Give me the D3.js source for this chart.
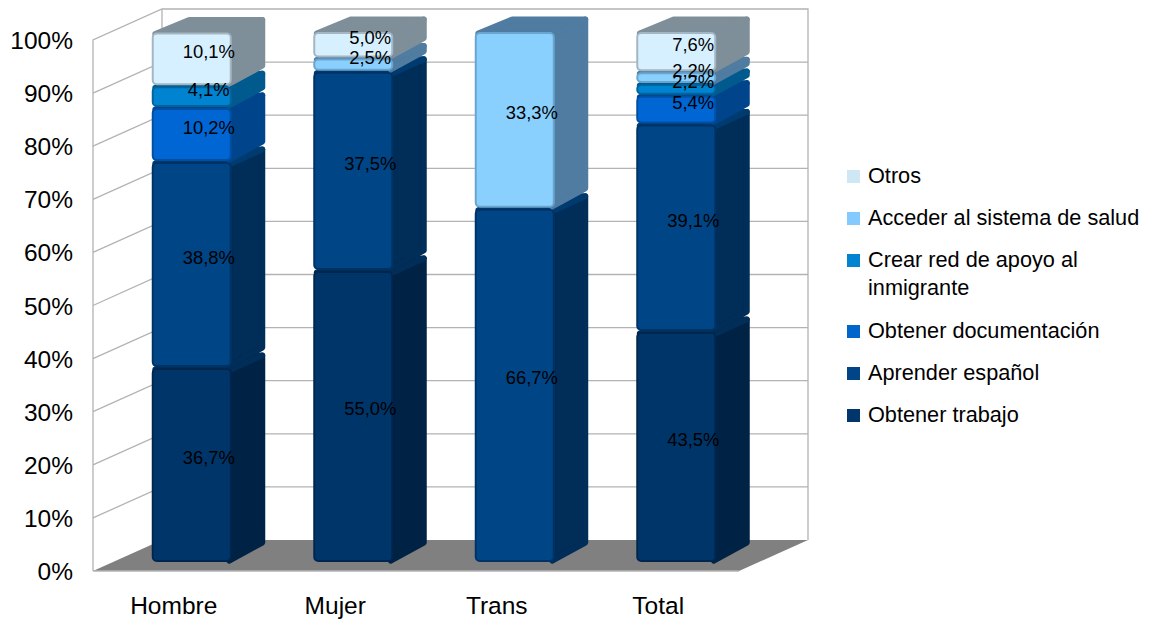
<!DOCTYPE html>
<html>
<head>
<meta charset="utf-8">
<script src="https://cdn.jsdelivr.net/npm/d3@7"></script>
<style>
  body { margin: 0; background: #fff; }
  text { font-family: "Liberation Sans", Arial, sans-serif; fill: #000; }
</style>
</head>
<body>
<svg id="chart" width="1151" height="621"></svg>
<script>
const categories = ["Hombre", "Mujer", "Trans", "Total"];
const ticks = [0, 10, 20, 30, 40, 50, 60, 70, 80, 90, 100];

const trabajo = [36.7, 55.0, 0, 43.5];
const espanol = [38.8, 37.5, 66.7, 39.1];
const documentacion = [10.2, 0, 0, 5.4];
const redApoyo = [4.1, 0, 0, 2.2];
const salud = [0, 2.5, 33.3, 2.2];
const otros = [10.1, 5.0, 0, 7.6];
const seriesValues = [trabajo, espanol, documentacion, redApoyo, salud, otros];

const frontColors = ["#00366b", "#004586", "#0066d4", "#0084d1", "#8ad0ff", "#d7f0ff"];
const sideColors = ["#002244", "#002d58", "#00458c", "#005a8e", "#4f7ba0", "#7f8f99"];
const topColors = ["#002d58", "#003a70", "#00458c", "#005a8e", "#4f7ba0", "#7f8f99"];
const borderColors = ["#00264d", "#003366", "#004fa3", "#00659f", "#6aa5d0", "#a3b6c2"];
const legendColors = ["#00366b", "#004586", "#0066cc", "#0084d1", "#83caff", "#cfe7f5"];

const svg = d3.select("#chart");

svg.append("defs").append("filter").attr("id", "soft")
  .append("feGaussianBlur").attr("stdDeviation", 0.55);

// front plane of the 3d box
const y = d3.scaleLinear().domain([0, 100]).range([571, 40]);
const x = d3.scaleBand().domain(categories).range([93, 739]);
const depthX = 69, depthY = -31;   // back wall offset
const barDX = 34, barDY = -16;     // bar depth
const barShiftX = 18, barShiftY = -8.5;
const barW = 79;
const r = 3;                       // corner radius of the faces

const grid = svg.append("g").attr("fill", "none").attr("stroke", "#b3b3b3").attr("stroke-width", 1.3);

// walls
grid.append("path").attr("d", `M${x.range()[0]},${y(0)}V${y(100)}L${x.range()[0] + depthX},${y(100) + depthY}H${x.range()[1] + depthX}V${y(0) + depthY}`);
grid.append("line").attr("x1", x.range()[0] + depthX).attr("x2", x.range()[0] + depthX)
  .attr("y1", y(100) + depthY).attr("y2", y(0) + depthY);

// gridlines on both walls
grid.selectAll(".g").data(ticks.slice(1, -1)).enter().append("path")
  .attr("d", d => `M${x.range()[0]},${y(d)}l${depthX},${depthY}H${x.range()[1] + depthX}`);

// floor
const floor = d3.path();
floor.moveTo(x.range()[0], y(0));
floor.lineTo(x.range()[0] + depthX, y(0) + depthY);
floor.lineTo(x.range()[1] + depthX, y(0) + depthY);
floor.lineTo(x.range()[1], y(0));
floor.closePath();
svg.append("path").attr("d", floor.toString()).attr("fill", "#808080");
svg.append("line").attr("x1", x.range()[0]).attr("x2", x.range()[1])
  .attr("y1", y(0)).attr("y2", y(0)).attr("stroke", "#b3b3b3").attr("stroke-width", 1.3);

// y labels
svg.append("g").selectAll("text").data(ticks).enter().append("text")
  .attr("x", 73).attr("y", d => y(d) + 9).attr("text-anchor", "end")
  .attr("font-size", 24.5).text(d => d + "%");

// x labels
svg.append("g").selectAll("text").data(categories).enter().append("text")
  .attr("x", d => x(d) + x.bandwidth() / 2).attr("y", 614).attr("text-anchor", "middle")
  .attr("font-size", 24.5).text(d => d);

// bars
const segments = [];
categories.forEach((c, i) => {
  let base = 0;
  seriesValues.forEach((vals, s) => {
    if (vals[i] > 0) segments.push({ cat: c, s, value: vals[i], y0: base, y1: base + vals[i] });
    base += vals[i];
  });
});

function barLeft(c) { return x(c) + (x.bandwidth() - barW) / 2 + barShiftX; }

const bars = svg.append("g").attr("filter", "url(#soft)");
segments.forEach(d => {
  const left = barLeft(d.cat);
  const right = left + barW + barDX;
  const t = y(d.y1) + barShiftY + 1, b = y(d.y0) + barShiftY - 1;
  const g = bars.append("g");
  g.append("path")
    .attr("d", `M${left + barW - 2},${t + 1}L${right - r},${t + barDY + r}V${b + barDY - r}L${left + barW - 2},${b - 1}Z`)
    .attr("fill", sideColors[d.s]).attr("stroke", sideColors[d.s]).attr("stroke-width", r * 2).attr("stroke-linejoin", "round");
  g.append("path")
    .attr("d", `M${left + r},${t + 1}L${left + barDX + r},${t + barDY + r}H${right - r}L${left + barW},${t + 1}Z`)
    .attr("fill", topColors[d.s]).attr("stroke", topColors[d.s]).attr("stroke-width", r * 2).attr("stroke-linejoin", "round");
  g.append("rect")
    .attr("x", left + 0.5).attr("y", t + 0.5).attr("width", barW - 1).attr("height", b - t - 1)
    .attr("rx", 4).attr("fill", frontColors[d.s])
    .attr("stroke", borderColors[d.s]).attr("stroke-width", 2);
});

// value labels, centred on the box
svg.append("g").selectAll("text").data(segments).enter().append("text")
  .attr("x", d => barLeft(d.cat) + (barW + barDX) / 2)
  .attr("y", d => y((d.y0 + d.y1) / 2) + barShiftY + barDY / 2 + 7)
  .attr("text-anchor", "middle").attr("font-size", 18.4)
  .text(d => d.value.toFixed(1).replace(".", ",") + "%");

// legend
const legendRows = [
  { s: 5, y: 176, lines: ["Otros"] },
  { s: 4, y: 218, lines: ["Acceder al sistema de salud"] },
  { s: 3, y: 260, lines: ["Crear red de apoyo al", "inmigrante"] },
  { s: 2, y: 331, lines: ["Obtener documentación"] },
  { s: 1, y: 373, lines: ["Aprender español"] },
  { s: 0, y: 415, lines: ["Obtener trabajo"] }
];
const legend = svg.append("g");
legendRows.forEach(row => {
  legend.append("rect").attr("x", 847).attr("y", row.y - 6).attr("width", 13).attr("height", 13).attr("fill", legendColors[row.s]);
  row.lines.forEach((l, i) => {
    legend.append("text").attr("x", 868).attr("y", row.y + 7 + i * 28).attr("font-size", 21.7).text(l);
  });
});
</script>
</body>
</html>
